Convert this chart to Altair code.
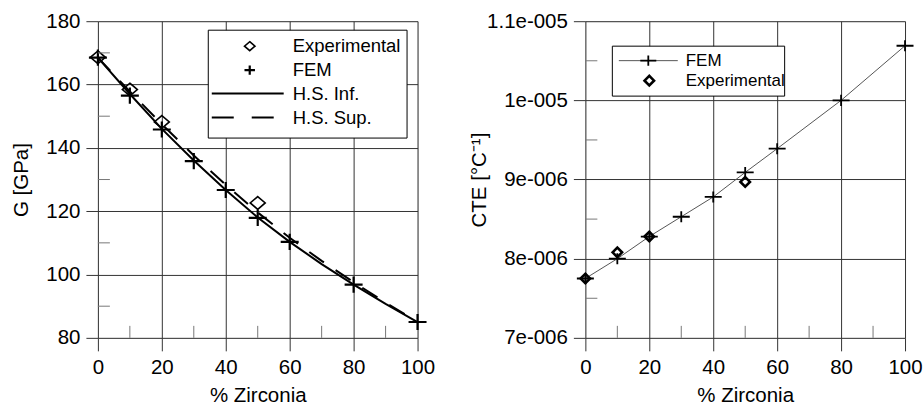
import altair as alt
import pandas as pd

# ---------------- data ----------------
zirconia_pct = [0, 10, 20, 30, 40, 50, 60, 70, 80, 90, 100]
g_hs_inf = [168.5, 157.0, 146.0, 136.0, 126.7, 118.0, 110.3, 103.3, 96.8, 90.7, 85.0]
g_hs_sup = [168.5, 157.8, 147.5, 137.6, 128.3, 119.6, 111.6, 104.3, 97.6, 91.1, 85.0]

g_fem_x = [0, 10, 20, 30, 40, 50, 60, 80, 100]
g_fem = [168.5, 156.5, 145.8, 135.8, 126.7, 117.9, 110.3, 96.8, 85.0]
g_exp_x = [0, 10, 20, 50]
g_exp = [168.6, 158.4, 148.2, 122.6]

cte_fem_x = [0, 10, 20, 30, 40, 50, 60, 80, 100]
cte_fem = [7.75e-6, 8.0e-6, 8.28e-6, 8.53e-6, 8.78e-6, 9.09e-6, 9.39e-6, 1.0e-5, 1.069e-5]
cte_exp_x = [0, 10, 20, 50]
cte_exp = [7.75e-6, 8.08e-6, 8.28e-6, 8.97e-6]

x_ticks = [0, 20, 40, 60, 80, 100]
x_minor = [10, 30, 50, 70, 90]
g_ticks = [80, 100, 120, 140, 160, 180]
g_minor = [90, 110, 130, 150, 170]
cte_ticks = [7e-6, 8e-6, 9e-6, 1e-5, 1.1e-5]
cte_minor = [7.5e-6, 8.5e-6, 9.5e-6, 1.05e-5]

legend_g = ["Experimental", "FEM", "H.S. Inf.", "H.S. Sup."]
legend_cte = ["FEM", "Experimental"]

x_title = "% Zirconia"
g_title = "G [GPa]"
cte_title = "CTE [°C⁻¹]"

# ---------------- style ----------------
FONT = "Liberation Sans"
W, H = 320, 317
GRID = "#333333"
PLUS_G = "M-1,0H1M0,-0.9V0.9"
DIAM_G = "M0,-0.85L1,0L0,0.85L-1,0Z"
PLUS_C = "M-1,0H1M0,-0.65V0.65"

xs = alt.Scale(domain=[0, 100], nice=False, zero=False)
gs = alt.Scale(domain=[80, 180], nice=False, zero=False)
cs = alt.Scale(domain=[7e-6, 1.1e-5], nice=False, zero=False)


def x_axis():
    return alt.Axis(values=x_ticks, title=x_title, grid=True, gridColor=GRID, gridWidth=1,
                    domain=False, tickSize=13, tickColor=GRID, labelFont=FONT, labelFontSize=20.5,
                    labelColor="black", labelPadding=7, labelFlush=False, labelOverlap=False,
                    titleFont=FONT, titleFontSize=20.5, titleFontWeight="normal",
                    titleColor="black", titlePadding=7)


def y_axis(values, title, label_expr=None, title_pad=10):
    kw = dict(values=values, title=title, grid=True, gridColor=GRID, gridWidth=1,
              domain=False, tickSize=12, tickColor=GRID, labelFont=FONT, labelFontSize=20.5,
              labelColor="black", labelPadding=6, labelFlush=False, labelOverlap=False,
              titleFont=FONT, titleFontSize=20.5, titleFontWeight="normal",
              titleColor="black", titlePadding=title_pad)
    if label_expr:
        kw["labelExpr"] = label_expr
    return alt.Axis(**kw)


one = pd.DataFrame({"k": [0]})


def box(x1, x2, y1, y2):
    return alt.Chart(one).mark_rect(fill="white", stroke="black", strokeWidth=1).encode(
        x=alt.value(x1), x2=alt.value(x2), y=alt.value(y1), y2=alt.value(y2))


def label(text, x, y, size):
    return alt.Chart(one).mark_text(text=text, align="left", baseline="middle", font=FONT,
                                    fontSize=size, color="black").encode(
        x=alt.value(x), y=alt.value(y))


def sym(shape, x, y, size, sw):
    return alt.Chart(one).mark_point(shape=shape, filled=False, size=size, strokeWidth=sw,
                                     color="black", opacity=1).encode(
        x=alt.value(x), y=alt.value(y))


def seg(x1, x2, y, sw, color="black", dash=None):
    kw = dict(strokeWidth=sw, color=color)
    if dash:
        kw["strokeDash"] = dash
    return alt.Chart(one).mark_rule(**kw).encode(x=alt.value(x1), x2=alt.value(x2), y=alt.value(y))


def minor_y(vals, yscale):
    return alt.Chart(pd.DataFrame({"mv": vals})).mark_rule(color="#777", strokeWidth=1).encode(
        y=alt.Y("mv:Q", scale=yscale), x=alt.value(0), x2=alt.value(12))


def minor_x(vals):
    return alt.Chart(pd.DataFrame({"mx": vals})).mark_rule(color="#777", strokeWidth=1).encode(
        x=alt.X("mx:Q", scale=xs), y=alt.value(H - 12), y2=alt.value(H))


# ---------------- left: G ----------------
df_hs = pd.DataFrame({"x": zirconia_pct, "inf": g_hs_inf, "sup": g_hs_sup})
df_gfem = pd.DataFrame({"x": g_fem_x, "y": g_fem})
df_gexp = pd.DataFrame({"x": g_exp_x, "y": g_exp})

inf_line = alt.Chart(df_hs).mark_line(color="black", strokeWidth=2).encode(
    x=alt.X("x:Q", scale=xs, axis=x_axis()),
    y=alt.Y("inf:Q", scale=gs, axis=y_axis(g_ticks, g_title, title_pad=14)))
sup_line = alt.Chart(df_hs).mark_line(color="black", strokeWidth=2, strokeDash=[18, 14]).encode(
    x=alt.X("x:Q", scale=xs), y=alt.Y("sup:Q", scale=gs))
g_fem_pts = alt.Chart(df_gfem).mark_point(shape=PLUS_G, filled=False, size=324, strokeWidth=2.2,
                                          color="black", opacity=1).encode(
    x=alt.X("x:Q", scale=xs), y=alt.Y("y:Q", scale=gs))
g_exp_pts = alt.Chart(df_gexp).mark_point(shape=DIAM_G, filled=False, size=225, strokeWidth=1.6,
                                          color="black", opacity=1).encode(
    x=alt.X("x:Q", scale=xs), y=alt.Y("y:Q", scale=gs))

lg = [
    box(110.5, 309.5, 9, 117),
    sym(DIAM_G, 152, 25, 110, 1.6), label(legend_g[0], 195, 25, 18.5),
    sym(PLUS_G, 152, 49, 110, 2.2), label(legend_g[1], 195, 49, 18.5),
    seg(114, 186, 72.5, 2), label(legend_g[2], 195, 72.5, 18.5),
    seg(114, 186, 96.5, 2, dash=[22, 18]), label(legend_g[3], 195, 96.5, 18.5),
]

left = alt.layer(inf_line, sup_line, g_fem_pts, g_exp_pts, minor_y(g_minor, gs), minor_x(x_minor),
                 *lg).properties(width=W, height=H)

# ---------------- right: CTE ----------------
df_cfem = pd.DataFrame({"x": cte_fem_x, "y": cte_fem})
df_cexp = pd.DataFrame({"x": cte_exp_x, "y": cte_exp})

cte_expr = "replace(format(datum.value, '~e'), 'e-', 'e-00')"
c_line = alt.Chart(df_cfem).mark_line(color="#555", strokeWidth=1).encode(
    x=alt.X("x:Q", scale=xs, axis=x_axis()),
    y=alt.Y("y:Q", scale=cs, axis=y_axis(cte_ticks, cte_title, cte_expr, title_pad=-3)))
c_fem_pts = alt.Chart(df_cfem).mark_point(shape=PLUS_C, filled=False, size=289, strokeWidth=1.8,
                                          color="black", opacity=1).encode(
    x=alt.X("x:Q", scale=xs), y=alt.Y("y:Q", scale=cs))
c_exp_pts = alt.Chart(df_cexp).mark_point(shape="diamond", filled=False, size=90, strokeWidth=2.6,
                                          color="black", opacity=1).encode(
    x=alt.X("x:Q", scale=xs), y=alt.Y("y:Q", scale=cs))

lc = [
    box(27, 199.5, 25, 75),
    seg(33.5, 92.5, 39.5, 1, color="#555"), sym(PLUS_C, 63, 39.5, 256, 1.8),
    label(legend_cte[0], 100.5, 39.5, 17),
    sym("diamond", 64, 59.5, 90, 2.6), label(legend_cte[1], 100.5, 59.5, 17),
]

right = alt.layer(c_line, c_fem_pts, c_exp_pts, minor_y(cte_minor, cs), minor_x(x_minor),
                  *lc).properties(width=W, height=H)

chart = alt.hconcat(left, right, spacing=33).properties(
    padding={"left": 11, "top": 10, "right": 0, "bottom": 0}
).configure_view(stroke=None).configure(background="white")

chart.save("out.html", embed_options={"renderer": "svg", "actions": False})
